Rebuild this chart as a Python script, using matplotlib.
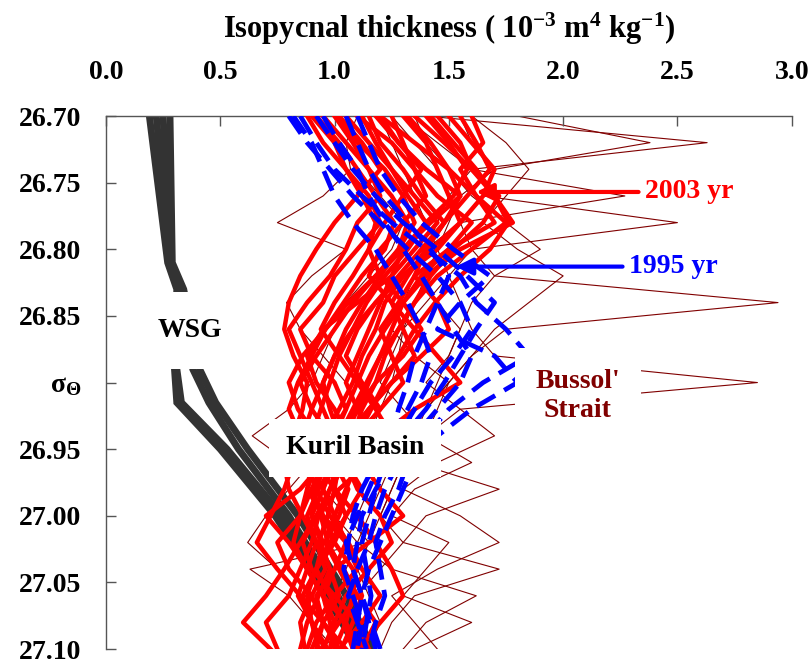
import matplotlib
matplotlib.use("Agg")
import matplotlib.pyplot as plt

plt.rcParams["font.family"] = ["Liberation Serif", "DejaVu Serif"]
plt.rcParams["font.weight"] = "bold"
plt.rcParams["mathtext.fontset"] = "custom"
plt.rcParams["mathtext.rm"] = "Liberation Serif:bold"
plt.rcParams["mathtext.it"] = "Liberation Serif:bold"
plt.rcParams["mathtext.bf"] = "Liberation Serif:bold"

# density levels (sigma-theta) shared by the profiles
sigma = [26.70, 26.72, 26.74, 26.76, 26.78, 26.80, 26.82, 26.84, 26.86, 26.88, 26.90,
         26.92, 26.94, 26.96, 26.98, 27.00, 27.02, 27.04, 27.06, 27.08, 27.10]

# 2003 Kuril Basin profiles
red_2003 = [
    [1.45, 1.55, 1.60, 1.70, 1.78, 1.55, 1.40, 1.30, 1.25, 1.20, 1.15, 1.10, 1.05, 1.00, 0.95, 0.90, 0.95, 0.92, 0.88, 0.90, 0.93],
    [1.20, 1.35, 1.50, 1.62, 1.75, 1.60, 1.45, 1.35, 1.28, 1.22, 1.18, 1.12, 1.08, 1.02, 1.00, 0.97, 0.93, 0.98, 1.02, 0.95, 0.90],
    [1.00, 1.10, 1.22, 1.30, 1.35, 1.28, 1.20, 1.12, 1.05, 1.00, 0.95, 0.98, 1.02, 0.95, 0.85, 0.70, 0.80, 0.88, 0.95, 1.00, 0.98],
    [0.90, 1.00, 1.05, 1.15, 1.20, 1.10, 1.00, 0.95, 0.85, 0.90, 1.00, 1.05, 0.98, 0.92, 0.88, 0.95, 1.05, 1.10, 1.00, 0.92, 0.88],
    [1.60, 1.65, 1.55, 1.62, 1.70, 1.50, 1.38, 1.30, 1.22, 1.15, 1.10, 1.05, 1.00, 0.98, 0.95, 1.00, 1.05, 1.00, 0.95, 0.98, 1.00],
    [1.30, 1.40, 1.45, 1.50, 1.55, 1.45, 1.30, 1.18, 1.10, 1.05, 1.12, 1.20, 1.10, 1.00, 0.93, 0.88, 0.92, 0.96, 0.90, 0.85, 0.87],
    [1.10, 1.25, 1.35, 1.40, 1.30, 1.20, 1.15, 1.25, 1.35, 1.45, 1.55, 1.35, 1.20, 1.10, 1.05, 1.00, 0.96, 1.02, 1.08, 1.05, 1.00],
    [0.95, 1.05, 1.15, 1.20, 1.10, 1.05, 0.98, 0.88, 0.80, 0.85, 0.90, 0.95, 1.00, 0.95, 0.90, 0.85, 0.75, 0.80, 0.90, 0.95, 0.92],
    [1.40, 1.50, 1.58, 1.52, 1.40, 1.30, 1.25, 1.20, 1.15, 1.10, 1.05, 1.10, 1.15, 1.05, 0.98, 0.93, 0.90, 0.85, 0.80, 0.70, 0.75],
    [1.25, 1.30, 1.35, 1.45, 1.60, 1.50, 1.35, 1.28, 1.20, 1.25, 1.30, 1.20, 1.10, 1.05, 1.10, 1.20, 1.25, 1.15, 1.05, 1.00, 0.95],
    [1.05, 1.15, 1.25, 1.35, 1.45, 1.35, 1.25, 1.10, 0.95, 0.88, 0.92, 1.00, 1.06, 1.12, 1.20, 1.30, 1.15, 1.00, 0.92, 0.95, 1.02],
    [1.50, 1.60, 1.70, 1.65, 1.55, 1.42, 1.30, 1.22, 1.18, 1.12, 1.08, 1.02, 0.96, 0.92, 0.88, 0.85, 0.82, 0.88, 0.95, 1.05, 1.10],
    [1.15, 1.20, 1.30, 1.38, 1.48, 1.40, 1.32, 1.25, 1.30, 1.35, 1.25, 1.15, 1.05, 0.98, 0.90, 0.95, 1.00, 1.08, 1.12, 1.08, 1.03],
    [0.88, 0.95, 1.05, 1.12, 1.18, 1.15, 1.08, 1.00, 0.94, 1.02, 1.10, 1.18, 1.25, 1.15, 1.02, 0.92, 0.86, 0.90, 1.00, 1.10, 1.15],
    [1.35, 1.48, 1.60, 1.72, 1.65, 1.52, 1.42, 1.35, 1.28, 1.20, 1.14, 1.08, 1.02, 0.96, 0.92, 0.90, 0.94, 0.98, 0.93, 0.88, 0.85],
    [1.20, 1.28, 1.38, 1.30, 1.22, 1.15, 1.20, 1.30, 1.38, 1.30, 1.18, 1.10, 1.02, 0.98, 1.00, 1.05, 1.00, 0.92, 0.86, 0.90, 0.97],
    [1.55, 1.62, 1.68, 1.58, 1.48, 1.38, 1.28, 1.18, 1.08, 1.00, 0.95, 0.90, 0.86, 0.82, 0.78, 0.72, 0.66, 0.75, 0.85, 0.95, 1.05],
    [1.00, 1.08, 1.15, 1.25, 1.32, 1.28, 1.18, 1.08, 1.00, 0.92, 0.85, 0.90, 0.98, 1.05, 1.12, 1.05, 0.98, 0.92, 0.98, 1.04, 1.08],
    [1.32, 1.42, 1.50, 1.55, 1.48, 1.40, 1.35, 1.45, 1.50, 1.38, 1.25, 1.15, 1.08, 1.02, 0.98, 0.94, 0.97, 1.03, 1.10, 1.18, 1.12],
    [1.12, 1.18, 1.25, 1.32, 1.40, 1.32, 1.22, 1.14, 1.08, 1.02, 0.98, 0.94, 0.90, 0.88, 0.92, 0.98, 1.06, 1.12, 1.20, 1.12, 1.02],
    [0.92, 1.02, 1.10, 1.18, 1.26, 1.22, 1.12, 1.04, 0.96, 0.90, 0.84, 0.80, 0.85, 0.92, 1.00, 1.10, 1.18, 1.25, 1.30, 1.20, 1.10],
    [1.42, 1.52, 1.62, 1.70, 1.76, 1.68, 1.55, 1.44, 1.35, 1.28, 1.22, 1.16, 1.10, 1.04, 0.98, 0.92, 0.85, 0.78, 0.70, 0.60, 0.72],
    [1.02, 1.12, 1.20, 1.10, 1.00, 0.92, 0.85, 0.80, 0.78, 0.82, 0.88, 0.86, 0.82, 0.78, 0.80, 0.86, 0.92, 0.88, 0.84, 0.90, 0.96],
    [1.18, 1.28, 1.40, 1.55, 1.42, 1.30, 1.18, 1.06, 0.96, 0.86, 0.80, 0.84, 0.92, 1.00, 1.06, 1.02, 0.96, 1.04, 1.10, 1.02, 0.94],
]

# 1995 Kuril Basin profiles
blue_1995 = [
    [0.80, 0.88, 0.98, 1.08, 1.20, 1.32, 1.45, 1.55, 1.60, 1.52, 1.42, 1.35, 1.28, 1.22, 1.18, 1.15, 1.12, 1.14, 1.16, 1.14, 1.12],
    [0.85, 0.92, 1.00, 1.12, 1.25, 1.40, 1.55, 1.62, 1.75, 1.85, 1.65, 1.50, 1.40, 1.32, 1.28, 1.22, 1.18, 1.20, 1.22, 1.18, 1.15],
    [0.92, 1.00, 1.08, 1.18, 1.30, 1.45, 1.58, 1.70, 1.62, 1.55, 1.48, 1.40, 1.30, 1.25, 1.18, 1.12, 1.10, 1.08, 1.12, 1.15, 1.18],
    [1.05, 1.10, 1.15, 1.22, 1.32, 1.42, 1.50, 1.45, 1.40, 1.35, 1.32, 1.28, 1.25, 1.20, 1.15, 1.10, 1.05, 1.08, 1.12, 1.10, 1.08],
    [0.95, 1.02, 1.10, 1.15, 1.22, 1.30, 1.38, 1.45, 1.52, 1.60, 1.55, 1.45, 1.35, 1.28, 1.22, 1.18, 1.15, 1.10, 1.06, 1.10, 1.14],
    [1.10, 1.15, 1.20, 1.28, 1.38, 1.52, 1.68, 1.55, 1.45, 1.70, 1.80, 1.60, 1.45, 1.35, 1.30, 1.25, 1.20, 1.15, 1.12, 1.16, 1.20],
    [0.82, 0.90, 0.95, 1.00, 1.08, 1.18, 1.25, 1.32, 1.38, 1.42, 1.38, 1.32, 1.25, 1.18, 1.12, 1.08, 1.06, 1.04, 1.08, 1.12, 1.10],
]

# Bussol' Strait profiles
bussol = [
    [1.40, 2.63, 1.60, 1.50, 1.45, 1.40, 1.35, 1.30, 1.25, 1.35, 1.50, 1.40, 1.30, 1.20, 1.15, 1.10, 1.05, 1.10, 1.15, 1.20, 1.15],
    [1.80, 2.38, 1.70, 1.55, 1.50, 1.45, 1.40, 1.35, 1.30, 1.25, 1.20, 1.30, 1.40, 1.35, 1.72, 1.40, 1.30, 1.20, 1.10, 1.05, 1.00],
    [1.30, 1.45, 1.60, 2.27, 1.55, 1.40, 1.35, 1.45, 1.55, 1.50, 1.45, 1.40, 1.35, 1.30, 1.25, 1.20, 1.30, 1.72, 1.35, 1.25, 1.20],
    [1.55, 1.60, 1.70, 1.65, 2.50, 1.60, 1.50, 1.40, 1.30, 1.28, 1.25, 1.20, 1.15, 1.10, 1.05, 1.00, 1.10, 1.25, 1.62, 1.40, 1.30],
    [1.25, 1.35, 1.45, 1.50, 1.55, 1.60, 1.70, 2.94, 1.75, 1.60, 1.50, 1.40, 1.30, 1.25, 1.20, 1.15, 1.10, 1.05, 1.00, 1.05, 1.10],
    [1.20, 1.25, 1.30, 1.35, 1.40, 1.45, 1.50, 1.55, 1.60, 1.70, 2.85, 1.55, 1.40, 1.30, 1.25, 1.20, 1.15, 1.10, 1.08, 1.12, 1.18],
    [1.10, 1.05, 1.07, 0.95, 0.75, 1.05, 0.90, 0.79, 0.85, 0.95, 1.05, 1.10, 1.00, 0.90, 0.80, 0.70, 0.62, 0.75, 0.85, 0.90, 0.95],
    [0.95, 1.00, 1.10, 1.20, 1.30, 1.25, 1.15, 1.05, 1.00, 0.95, 0.90, 0.80, 0.64, 0.80, 0.95, 1.05, 1.15, 0.63, 0.80, 0.90, 1.00],
    [1.60, 1.75, 1.85, 1.75, 1.65, 1.80, 2.00, 1.85, 1.70, 1.60, 1.50, 1.45, 1.40, 1.60, 1.35, 1.25, 1.50, 1.40, 1.30, 1.60, 1.35],
    [1.35, 1.40, 1.50, 1.60, 1.75, 1.90, 1.70, 1.60, 1.55, 1.50, 1.40, 1.55, 1.70, 1.45, 1.30, 1.55, 1.72, 1.45, 1.25, 1.35, 1.45],
]

# Western Subarctic Gyre profiles on their own levels
sigma_wsg = [26.70, 26.81, 26.83, 26.89, 26.915, 26.95, 27.00, 27.05, 27.10]
wsg = [
    [0.19, 0.27, 0.31, 0.30, 0.31, 0.50, 0.74, 0.93, 1.10],
    [0.22, 0.28, 0.32, 0.31, 0.33, 0.53, 0.77, 0.96, 1.13],
    [0.25, 0.28, 0.33, 0.38, 0.45, 0.58, 0.80, 0.98, 1.15],
    [0.28, 0.29, 0.34, 0.41, 0.48, 0.62, 0.84, 1.02, 1.17],
]

y_ticks = [26.70, 26.75, 26.80, 26.85, 26.90, 26.95, 27.00, 27.05, 27.10]
y_ticklabels = ["26.70", "26.75", "26.80", "26.85", r"$\sigma_\Theta$",
                "26.95", "27.00", "27.05", "27.10"]
x_ticks = [0.0, 0.5, 1.0, 1.5, 2.0, 2.5, 3.0]

fig = plt.figure(figsize=(8.12, 6.61), dpi=100)
ax = fig.add_axes([0.1305, 0.018, 0.8445, 0.8065])

for prof in bussol:
    ax.plot(prof, sigma, color="#800000", lw=0.8, zorder=1)
for prof in wsg:
    ax.plot(prof, sigma_wsg, color="#333333", lw=5, solid_joinstyle="miter", zorder=2)
for prof in red_2003:
    ax.plot(prof, sigma, color="#ff0000", lw=3.2, zorder=3)
for prof in blue_1995:
    ax.plot(prof, sigma, color="#0000ff", lw=3.4, dashes=(4.5, 2.2), zorder=4)

ax.set_xlim(0, 3.0)
ax.set_ylim(27.10, 26.70)
ax.xaxis.tick_top()
ax.xaxis.set_label_position("top")
ax.set_xticks(x_ticks)
ax.set_xticklabels([f"{v:.1f}" for v in x_ticks])
ax.set_yticks(y_ticks)
ax.set_yticklabels(y_ticklabels)
ax.tick_params(direction="in", length=7, width=1, color="#555555",
               labelsize=20, pad=18)
ax.tick_params(axis="x", pad=22)
for side in ("right", "bottom"):
    ax.spines[side].set_visible(False)
for side in ("top", "left"):
    ax.spines[side].set_color("#555555")
    ax.spines[side].set_linewidth(1)

ax.set_xlabel(r"Isopycnal thickness ( 10$^{-3}$ m$^{4}$ kg$^{-1}$)",
              fontsize=22, fontweight="bold", labelpad=16)

box = dict(facecolor="white", edgecolor="none")
ax.text(0.367, 26.861, "WSG", fontsize=20, ha="center", va="center", zorder=10,
        bbox=dict(box, boxstyle="square,pad=0.95"))
ax.text(1.09, 26.949, "Kuril Basin", fontsize=20, ha="center", va="center", zorder=10,
        bbox=dict(box, boxstyle="square,pad=0.6"))
ax.text(2.064, 26.91, "Bussol'\nStrait", fontsize=20, color="#800000", ha="center",
        va="center", linespacing=1.2, zorder=10,
        bbox=dict(box, boxstyle="square,pad=0.75"))

arrow = dict(arrowstyle="-|>,head_length=1.0,head_width=0.5", lw=3, shrinkA=0, shrinkB=0)
ax.annotate("", xy=(1.62, 26.757), xytext=(2.33, 26.757),
            arrowprops=dict(arrow, color="#ff0000"), zorder=11)
ax.text(2.36, 26.757, "2003 yr", fontsize=20, color="#ff0000", ha="left", va="center", zorder=11)
ax.annotate("", xy=(1.53, 26.813), xytext=(2.26, 26.813),
            arrowprops=dict(arrow, color="#0000ff"), zorder=11)
ax.text(2.29, 26.813, "1995 yr", fontsize=20, color="#0000ff", ha="left", va="center", zorder=11)

fig.savefig("out.png", dpi=100)
